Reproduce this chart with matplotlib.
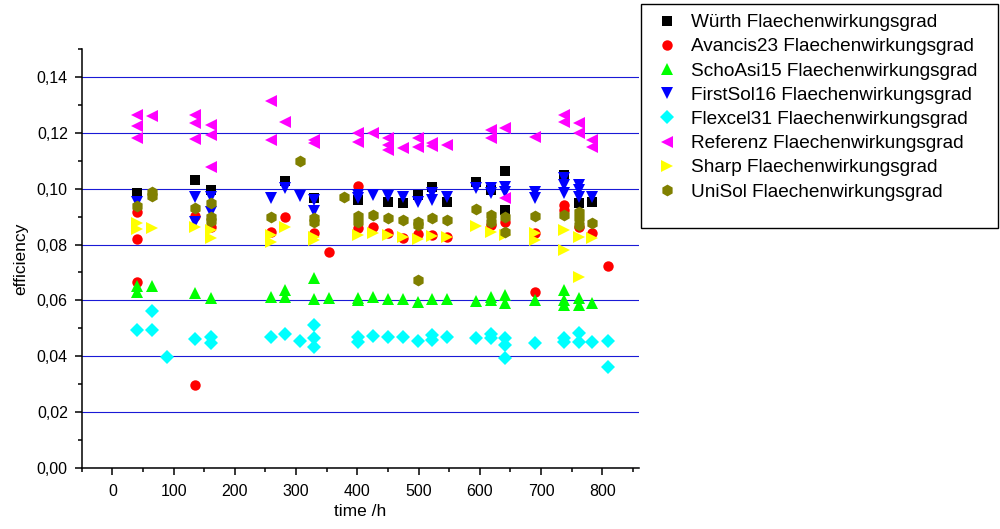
import matplotlib
matplotlib.use("Agg")
import matplotlib.pyplot as plt
from matplotlib.patches import Rectangle
from matplotlib.ticker import MultipleLocator, FuncFormatter

plt.rcParams['font.family'] = ['Liberation Sans', 'DejaVu Sans']

# Measured area efficiency per module type over exposure time (hours)
wurth_t = [41, 135, 161, 282, 329, 401, 450, 475, 499, 522, 546, 594, 618, 641, 641, 737, 762, 784]
wurth_eff = [0.0984, 0.1032, 0.0996, 0.1029, 0.0966, 0.0960, 0.0954, 0.0948, 0.0976, 0.1008, 0.0954,
             0.1026, 0.0996, 0.1062, 0.0924, 0.1050, 0.0948, 0.0954]

avancis_t = [41, 41, 41, 135, 135, 161, 259, 282, 329, 354, 401, 401, 426, 450, 475, 499, 522, 546,
             618, 641, 690, 690, 737, 737, 762, 784, 810]
avancis_eff = [0.0918, 0.0820, 0.0667, 0.0903, 0.0295, 0.0864, 0.0846, 0.0900, 0.0841, 0.0772, 0.1010,
               0.0858, 0.0864, 0.0841, 0.0825, 0.0838, 0.0834, 0.0828, 0.0870, 0.0882, 0.0841, 0.0629,
               0.0942, 0.0924, 0.0864, 0.0841, 0.0724]

schoasi_t = [41, 41, 65, 135, 161, 259, 282, 282, 329, 329, 354, 401, 401, 426, 450, 475, 499, 522, 546,
             594, 618, 618, 641, 641, 690, 737, 737, 737, 762, 762, 784]
schoasi_eff = [0.0650, 0.0630, 0.0652, 0.0625, 0.0607, 0.0613, 0.0637, 0.0613, 0.0679, 0.0604, 0.0607,
               0.0607, 0.0600, 0.0613, 0.0604, 0.0604, 0.0595, 0.0604, 0.0604, 0.0599, 0.0611, 0.0601,
               0.0619, 0.0590, 0.0601, 0.0637, 0.0601, 0.0583, 0.0607, 0.0583, 0.0590]

firstsol_t = [41, 135, 135, 161, 161, 259, 282, 307, 329, 329, 401, 401, 426, 450, 475, 499, 522, 522,
              546, 594, 618, 618, 641, 641, 690, 690, 737, 737, 737, 762, 762, 762, 784]
firstsol_eff = [0.0954, 0.0972, 0.0880, 0.0970, 0.0918, 0.0966, 0.1002, 0.0974, 0.0960, 0.0922, 0.0978,
                0.0966, 0.0978, 0.0974, 0.0972, 0.0954, 0.0984, 0.0960, 0.0972, 0.1002, 0.1002, 0.0984,
                0.1008, 0.0990, 0.0990, 0.0966, 0.1038, 0.1014, 0.0984, 0.1014, 0.0996, 0.0972, 0.0972]

flexcel_t = [41, 65, 65, 89, 135, 161, 161, 259, 282, 307, 329, 329, 329, 401, 401, 426, 450, 475, 499,
             522, 522, 546, 594, 618, 618, 641, 641, 641, 690, 737, 737, 762, 762, 784, 810, 810]
flexcel_eff = [0.0494, 0.0560, 0.0494, 0.0396, 0.0460, 0.0470, 0.0446, 0.0468, 0.0479, 0.0454, 0.0512,
               0.0466, 0.0432, 0.0468, 0.0452, 0.0472, 0.0470, 0.0470, 0.0454, 0.0476, 0.0458, 0.0470,
               0.0466, 0.0479, 0.0464, 0.0464, 0.0440, 0.0392, 0.0448, 0.0464, 0.0452, 0.0484, 0.0452,
               0.0452, 0.0454, 0.0362]

referenz_t = [41, 41, 41, 65, 135, 135, 135, 161, 161, 161, 259, 259, 282, 329, 329, 401, 401, 426, 450,
              450, 450, 475, 499, 499, 522, 522, 546, 618, 618, 641, 641, 690, 737, 737, 762, 762, 784, 784]
referenz_eff = [0.1265, 0.1225, 0.1181, 0.1262, 0.1265, 0.1235, 0.1178, 0.1229, 0.1193, 0.1079, 0.1313,
                0.1175, 0.1241, 0.1175, 0.1163, 0.1199, 0.1169, 0.1199, 0.1181, 0.1157, 0.1139, 0.1145,
                0.1181, 0.1151, 0.1163, 0.1155, 0.1157, 0.1211, 0.1181, 0.1217, 0.0966, 0.1185, 0.1265,
                0.1241, 0.1235, 0.1199, 0.1175, 0.1151]

sharp_t = [41, 41, 65, 135, 161, 161, 259, 259, 282, 329, 329, 401, 426, 450, 475, 499, 522, 546, 594,
           618, 641, 690, 690, 737, 737, 762, 762, 784]
sharp_eff = [0.0876, 0.0855, 0.0858, 0.0862, 0.0852, 0.0823, 0.0834, 0.0810, 0.0864, 0.0828, 0.0817,
             0.0834, 0.0841, 0.0834, 0.0828, 0.0819, 0.0832, 0.0828, 0.0867, 0.0846, 0.0834, 0.0841,
             0.0817, 0.0852, 0.0781, 0.0828, 0.0685, 0.0823]

unisol_t = [41, 65, 65, 135, 161, 161, 161, 259, 307, 329, 329, 378, 401, 401, 426, 450, 475, 499, 499,
            499, 522, 546, 594, 618, 618, 641, 641, 690, 737, 762, 762, 762, 784]
unisol_eff = [0.0938, 0.0987, 0.0975, 0.0930, 0.0948, 0.0898, 0.0886, 0.0898, 0.1101, 0.0894, 0.0882,
              0.0970, 0.0903, 0.0882, 0.0906, 0.0894, 0.0888, 0.0882, 0.0870, 0.0673, 0.0894, 0.0888,
              0.0928, 0.0906, 0.0882, 0.0900, 0.0846, 0.0903, 0.0906, 0.0918, 0.0894, 0.0870, 0.0876]

series = [
    ("Würth Flaechenwirkungsgrad", wurth_t, wurth_eff, "s", "black", 7.0),
    ("Avancis23 Flaechenwirkungsgrad", avancis_t, avancis_eff, "o", "red", 7.5),
    ("SchoAsi15 Flaechenwirkungsgrad", schoasi_t, schoasi_eff, "^", "#00ff00", 8.5),
    ("FirstSol16 Flaechenwirkungsgrad", firstsol_t, firstsol_eff, "v", "blue", 8.5),
    ("Flexcel31 Flaechenwirkungsgrad", flexcel_t, flexcel_eff, "D", "cyan", 7.0),
    ("Referenz Flaechenwirkungsgrad", referenz_t, referenz_eff, "<", "magenta", 8.5),
    ("Sharp Flaechenwirkungsgrad", sharp_t, sharp_eff, ">", "yellow", 8.5),
    ("UniSol Flaechenwirkungsgrad", unisol_t, unisol_eff, "h", "#808000", 8.5),
]

fig = plt.figure(figsize=(10.0, 5.29), dpi=100)
ax = fig.add_axes([0.0817, 0.1159, 0.5573, 0.7909])

handles = []
for label, t, eff, marker, color, ms in series:
    h, = ax.plot(t, eff, linestyle="none", marker=marker, color=color,
                 markersize=ms, markeredgewidth=0, label=label)
    handles.append(h)

ax.set_xlim(-50, 860)
ax.set_ylim(0.0, 0.15)
ax.xaxis.set_major_locator(MultipleLocator(100))
ax.xaxis.set_minor_locator(MultipleLocator(50))
ax.yaxis.set_major_locator(MultipleLocator(0.02))
ax.yaxis.set_minor_locator(MultipleLocator(0.01))
ax.yaxis.set_major_formatter(FuncFormatter(lambda v, p: f"{v:.2f}".replace(".", ",")))

for side in ("top", "right"):
    ax.spines[side].set_visible(False)
for side in ("left", "bottom"):
    ax.spines[side].set_linewidth(1.1)

ax.tick_params(which="major", direction="out", length=5, width=1.1, labelsize=11.5)
ax.tick_params(which="minor", direction="out", length=3, width=1.1)
ax.tick_params(axis="x", which="major", pad=7)
ax.tick_params(axis="y", which="major", pad=5)

ax.set_axisbelow(True)
ax.grid(axis="y", which="major", color="#1a1ad6", linewidth=0.8)

ax.set_xlabel("time /h", fontsize=12.5, labelpad=3)
ax.set_ylabel("efficiency", fontsize=12.5, labelpad=6)

# Legend box on the right side of the figure
fig.patches.append(Rectangle((0.641, 1 - 228 / 529), 0.357, (228 - 4) / 529,
                             transform=fig.transFigure, fill=False,
                             edgecolor="black", linewidth=1.0))
fig.legend(handles=handles, loc="upper left", bbox_to_anchor=(0.658, 1 - 14 / 529),
           frameon=False, fontsize=13.7, handlelength=0.9, handletextpad=0.85,
           labelspacing=0.36, borderpad=0.0, borderaxespad=0.0)

fig.savefig("out.png", dpi=100)
